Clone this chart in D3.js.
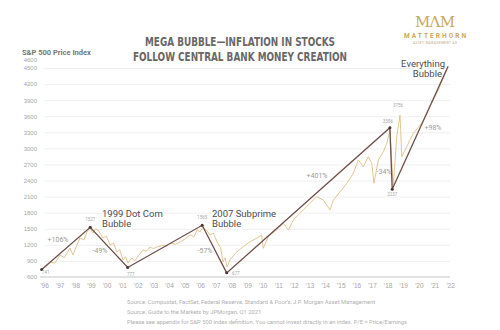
<!DOCTYPE html>
<html>
<head>
<meta charset="utf-8">
<script src="https://cdn.jsdelivr.net/npm/d3@7"></script>
<style>
  body { margin: 0; background: #fff; }
  svg { display: block; font-family: Roboto, "Noto Sans", sans-serif; }
</style>
</head>
<body>
<svg id="chart" width="500" height="330"></svg>
<script>
const priceYears = [1995.85, 1996.20, 1996.38, 1996.70, 1997.02, 1997.30, 1997.66, 1997.86, 1998.05, 1998.30, 1998.55,
  1998.75, 1998.94, 1999.14, 1999.30, 1999.46, 1999.62, 1999.78, 2000.00, 2000.23, 2000.45, 2000.67, 2000.85,
  2001.06, 2001.22, 2001.38, 2001.63, 2001.80, 2001.95, 2002.15, 2002.34, 2002.55, 2002.79, 2003.00, 2003.23,
  2003.62, 2003.85, 2004.07, 2004.40, 2004.71, 2005.00, 2005.35, 2005.60, 2005.80, 2006.00, 2006.18, 2006.40,
  2006.63, 2006.85, 2007.08, 2007.30, 2007.46, 2007.60, 2007.72, 2007.91, 2008.34, 2008.76, 2009.19, 2009.62,
  2009.94, 2010.04, 2010.36, 2010.90, 2011.33, 2011.65, 2011.97, 2012.39, 2012.71, 2013.03, 2013.46, 2013.89,
  2014.32, 2014.53, 2014.96, 2015.39, 2015.81, 2016.13, 2016.45, 2016.77, 2016.99, 2017.13, 2017.41, 2017.73,
  2017.95, 2018.16, 2018.31, 2018.37, 2018.59, 2018.80, 2018.91, 2019.23, 2019.65, 2020.19, 2020.72, 2021.25, 2021.79];
const priceValues = [741, 810, 880, 860, 1010, 960, 1141, 1010, 1160, 1328, 1290,
  1440, 1514, 1421, 1500, 1477, 1400, 1328, 1360, 1197, 1230, 1066, 1110,
  917, 980, 861, 955, 900, 955, 1040, 1104, 1080, 1160, 1130, 1160,
  1197, 1170, 1234, 1210, 1253, 1300, 1384, 1350, 1477, 1440, 1533, 1480,
  1384, 1420, 1253, 1150, 880, 960, 787, 917, 1072, 1165, 1259, 1322,
  1384, 1135, 1352, 1477, 1602, 1477, 1663, 1788, 1882, 1975, 2098, 2037,
  1850, 2037, 2191, 2348, 2535, 2783, 2658, 2844, 2721, 2348, 2783, 2938,
  3094, 3343, 2535, 2316, 3218, 3623, 2844, 3031, 3281, 3468, 3777, 4089, 4462];

// turning points of the trend line
const pivotYears  = [1995.85, 1998.96, 2001.36, 2006.13, 2007.70, 2018.15, 2018.30, 2021.88];
const pivotValues = [741, 1527, 777, 1565, 677, 3386, 2237, 4530];
const pivotLabels = ["741", "1527", "777", "1565", "677", "3386", "2237", ""];

const moveLabels = ["+106%", "-49%", "-57%", "+401%", "-34%", "+98%"];
const yTicks = [600, 900, 1200, 1500, 1800, 2100, 2400, 2700, 3000, 3300, 3600, 3900, 4200, 4500, 4600];
const xTicks = d3.range(1996, 2023);

const sources = [
  "Source: Compustat, FactSet, Federal Reserve, Standard & Poor's, J.P. Morgan Asset Management",
  "Source: Guide to the Markets by JPMorgan, Q1 2021",
  "Please see appendix for S&P 500 index definition. You cannot invest directly in an index. P/E = Price/Earnings"
];

const svg = d3.select("#chart");
const x = d3.scaleLinear().domain([1996, 2022]).range([44, 450]);
const y = d3.scaleLinear().domain([600, 4600]).range([277, 62.6]);

svg.append("rect").attr("width", 500).attr("height", 330).attr("fill", "#fff");

// grid
svg.append("g")
  .attr("transform", "translate(44,0)")
  .call(d3.axisLeft(y).tickValues(yTicks.filter(d => d > 600 && d < 4600)).tickSize(-406).tickFormat(""))
  .call(g => g.select(".domain").remove())
  .selectAll("line").attr("stroke", "#ececec").attr("stroke-width", 0.8);

// y labels
svg.append("g")
  .attr("transform", "translate(44,0)")
  .call(d3.axisLeft(y).tickValues(yTicks).tickSize(0).tickPadding(7).tickFormat(d3.format("d")))
  .call(g => g.select(".domain").remove())
  .call(g => g.selectAll(".tick").filter(d => d === 4600).select("text").attr("dy", "-0.2em"))
  .selectAll("text").attr("fill", "#a6a6a6").style("font-size", "6px");

// x axis
const xAxisG = svg.append("g")
  .attr("transform", "translate(0,277)")
  .call(d3.axisBottom(x).tickValues(xTicks).tickSize(0).tickPadding(6)
    .tickFormat(d => "’" + String(d).slice(2)));
xAxisG.select(".domain").attr("stroke", "#c4c4c4").attr("d", "M40,0H450");
xAxisG.selectAll("text").attr("fill", "#a6a6a6").style("font-size", "6.5px");

// price line
const price = priceYears.map((d, i) => [d, priceValues[i]]);
svg.append("path")
  .datum(price)
  .attr("fill", "none")
  .attr("stroke", "#dcc089")
  .attr("stroke-width", 0.9)
  .attr("stroke-linejoin", "round")
  .attr("d", d3.line().x(d => x(d[0])).y(d => y(d[1])));

// trend line
const pivots = pivotYears.map((d, i) => ({ yr: d, v: pivotValues[i], label: pivotLabels[i] }));
svg.append("path")
  .datum(pivots)
  .attr("fill", "none")
  .attr("stroke", "#6e4f4b")
  .attr("stroke-width", 1.3)
  .attr("d", d3.line().x(d => x(d.yr)).y(d => y(d.v)));

svg.selectAll("circle.pivot")
  .data(pivots.slice(0, 7))
  .join("circle")
  .attr("class", "pivot")
  .attr("cx", d => x(d.yr))
  .attr("cy", d => y(d.v))
  .attr("r", 1.5)
  .attr("fill", "#4a3432");

// small value labels next to the pivots
const labelOffsets = [[4, 5], [0, -6], [3, 8], [0, -6], [9, 2], [-2, -5], [0, 7]];
svg.selectAll("text.pv")
  .data(pivots.filter(d => d.label))
  .join("text")
  .attr("class", "pv")
  .attr("x", (d, i) => x(d.yr) + labelOffsets[i][0])
  .attr("y", (d, i) => y(d.v) + labelOffsets[i][1])
  .attr("text-anchor", "middle")
  .attr("fill", "#a8a8a8")
  .style("font-size", "4.5px")
  .text(d => d.label);

// the 3756 peak of the price line
const peakIdx = priceValues.indexOf(3623);
svg.append("text")
  .attr("x", x(priceYears[peakIdx]) - 2)
  .attr("y", y(3756) - 1)
  .attr("text-anchor", "middle")
  .attr("fill", "#a8a8a8")
  .style("font-size", "4.5px")
  .text("3756");

// percent moves
const movePos = [[58, 242], [100, 253], [205, 253], [317, 178], [384, 174], [433, 130]];
svg.selectAll("text.move")
  .data(moveLabels)
  .join("text")
  .attr("class", "move")
  .attr("x", (d, i) => movePos[i][0])
  .attr("y", (d, i) => movePos[i][1])
  .attr("text-anchor", "middle")
  .attr("fill", "#9a9a9a")
  .style("font-size", "7px")
  .text(d => d);

// annotations
function note(lines, xx, yy, anchor) {
  const t = svg.append("text").attr("x", xx).attr("y", yy).attr("text-anchor", anchor)
    .attr("fill", "#4d4d4d").style("font-size", "9.5px");
  lines.forEach((l, i) => t.append("tspan").attr("x", xx - (anchor === "end" ? i * 3 : 0))
    .attr("dy", i ? 10 : 0).text(l));
}
note(["1999 Dot Com", "Bubble"], 102, 217, "start");
note(["2007 Subprime", "Bubble"], 212, 217, "start");
note(["Everything", "Bubble"], 445, 67, "end");

// titles
const titleFont = "'DejaVu Sans Condensed', 'Liberation Sans', sans-serif";
svg.append("text").attr("x", 240).attr("y", 46).attr("text-anchor", "middle")
  .attr("fill", "#686868").style("font-family", titleFont)
  .style("font-weight", "bold").style("font-size", "12.5px")
  .attr("textLength", 190).attr("lengthAdjust", "spacingAndGlyphs")
  .text("MEGA BUBBLE—INFLATION IN STOCKS");
svg.append("text").attr("x", 240).attr("y", 61).attr("text-anchor", "middle")
  .attr("fill", "#686868").style("font-family", titleFont)
  .style("font-weight", "bold").style("font-size", "12.5px")
  .attr("textLength", 214).attr("lengthAdjust", "spacingAndGlyphs")
  .text("FOLLOW CENTRAL BANK MONEY CREATION");

svg.append("text").attr("x", 22).attr("y", 54.5)
  .attr("fill", "#777").style("font-weight", "bold").style("font-size", "7.5px")
  .text("S&P 500 Price Index");

// logo
const gold = "#c9a860";
svg.append("text").attr("x", 435).attr("y", 27).attr("text-anchor", "middle")
  .attr("fill", gold).style("font-family", "'DejaVu Serif', serif").style("font-size", "15px")
  .attr("textLength", 40).text("MΛM");
svg.append("text").attr("x", 435).attr("y", 38).attr("text-anchor", "middle")
  .attr("fill", gold).style("font-weight", "bold").style("font-size", "6.5px")
  .attr("textLength", 62).text("MATTERHORN");
svg.append("text").attr("x", 435).attr("y", 44).attr("text-anchor", "middle")
  .attr("fill", "#b9a37a").style("font-size", "3px")
  .attr("textLength", 44).text("ASSET MANAGEMENT AG");

// sources
svg.selectAll("text.src")
  .data(sources)
  .join("text")
  .attr("class", "src")
  .attr("x", 127)
  .attr("y", (d, i) => 303.5 + i * 10)
  .attr("fill", "#b0b0b0")
  .style("font-size", "5.8px")
  .text(d => d);
</script>
</body>
</html>
